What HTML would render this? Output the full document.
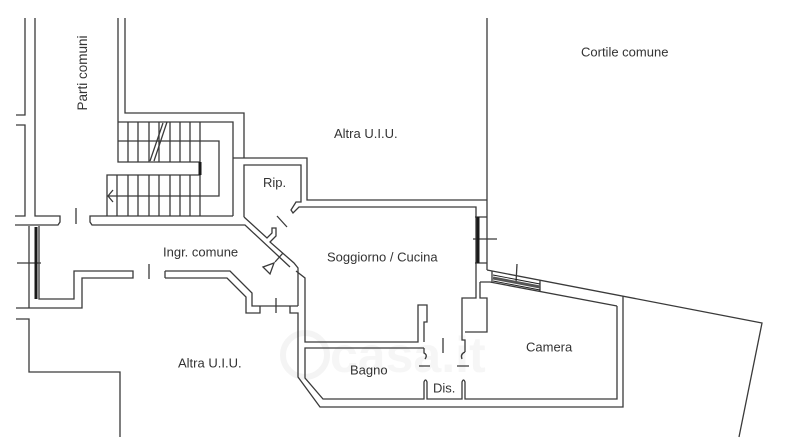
<!DOCTYPE html>
<html><head><meta charset="utf-8"><style>
html,body{margin:0;padding:0;background:#fff;}
svg{display:block;}
text{font-family:"Liberation Sans",Arial,sans-serif;font-size:13px;fill:#333;}
</style></head><body>
<svg width="800" height="447" viewBox="0 0 800 447" xmlns="http://www.w3.org/2000/svg">
<rect width="800" height="447" fill="#fff"/>
<!-- faint watermark -->
<g opacity="0.5">
<circle cx="305" cy="355" r="22" fill="none" stroke="#eaeaea" stroke-width="6"/>
<text x="330" y="372" style="font-size:50px;font-weight:bold;fill:#efefef">casa.it</text>
</g>
<g fill="none" stroke="#3a3a3a" stroke-width="1.3" stroke-linejoin="miter">
<!-- left column -->
<path d="M25,18V115H16"/>
<path d="M16,125H25V216H15"/>
<path d="M35,18V216H60V222L58,225H15"/>
<path d="M76,208V224"/>
<path d="M233,216H90V222L92,225H245L290,267"/>
<!-- stair block -->
<path d="M118,18V162H200"/>
<path d="M125,18V113H244V158"/>
<path d="M118,122H233V216"/>
<path d="M233,158H307V200H487"/>
<path d="M487,18V270"/>
<path d="M128,122V162M138,122V162M149,122V162M159,122V162M170,122V162M180,122V162M190,122V162M200,122V162"/>
<path d="M118,141H219V196H107"/>
<path d="M200,162V175H107V216"/>
<path d="M117,175V216M128,175V216M138,175V216M149,175V216M159,175V216M170,175V216M180,175V216M190,175V216M200,175V216"/>
<path d="M167,122L154,161M163,123L150,161"/>
<path d="M113,190L108,196L113,202"/>
<!-- Rip / Soggiorno inner -->
<path d="M244,217V165H301V202H296L291,210L293,213L299,207H476V298H462V340H465V352"/>
<path d="M244,217L267,238L272,233V228H276V236L270,242L294,263L298,268V306"/>
<path d="M296,271L305,278V342H418V305H427V322H424V342"/>
<path d="M277,216L287,227"/>
<path d="M275,262L283,253"/>
<path d="M263,267L274,263L270,274Z"/>
<!-- corridor south wall -->
<path d="M165,271H230L252,293V306H298"/>
<path d="M165,278H227L246,297V313H260V306"/>
<path d="M290,306V313H298V377L320,407H623V296"/>
<path d="M276,298V313"/>
<path d="M39,226V299H74V271H133V278H82V308H16"/>
<path d="M29,226V308"/>
<path d="M149,264V279"/>
<path d="M165,271V278"/>
<path d="M16,319H29V372H120V437"/>
<!-- bagno / dis -->
<path d="M424,348H305V378L323,399H424V382Q425.5,378 427,382V399H462V382Q463.5,378 465,382V399H617V306"/>
<path d="M424,348V353Q428,355 425,359"/>
<path d="M465,352Q460,354 462,359"/>
<path d="M419,366H430M457,366H469"/>
<path d="M443,338V353"/>
<path d="M480,282V298H487V332H465"/>
<!-- camera / cortile -->
<path d="M487,270L762,323L739,437"/>
<path d="M480,282H490L617,306"/>
<path d="M492,271V283M540,280V292"/>
<path d="M517,264L516,283"/>
<!-- windows -->
<path d="M17,263H41"/>
<path d="M475,217H487M475,263H487"/>
<path d="M473,239H497"/>
</g>
<g stroke="#1a1a1a" fill="none">
<path d="M36,227V299" stroke-width="3"/>
<path d="M478,217V263" stroke-width="3"/>
<path d="M200,162V175" stroke-width="3"/>
<path d="M493,278L540,287" stroke-width="3" stroke="#555"/>
<path d="M493,275L540,284M493,281L540,290" stroke-width="0.9"/>
</g>
<!-- labels -->
<text x="581" y="56.5">Cortile comune</text>
<text x="334" y="138">Altra U.I.U.</text>
<text x="263" y="187">Rip.</text>
<text x="163" y="256.5">Ingr. comune</text>
<text x="327" y="261.5">Soggiorno / Cucina</text>
<text x="178" y="367.5">Altra U.I.U.</text>
<text x="350" y="374.5">Bagno</text>
<text x="433" y="392.5">Dis.</text>
<text x="526" y="351.5">Camera</text>
<text transform="translate(87,73) rotate(-90)" text-anchor="middle" style="font-size:13.5px">Parti comuni</text>
</svg>
</body></html>
